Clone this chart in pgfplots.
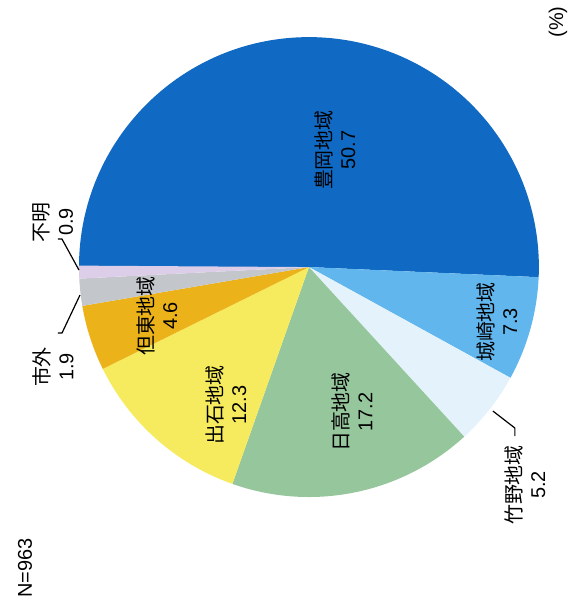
\documentclass[border=0pt]{standalone}
\usepackage{pgfplots}
\pgfplotsset{compat=1.18}
\usepackage{pgfplotstable}
\usepackage{fontspec}
\setmainfont{Liberation Sans}
\newfontfamily\cjk{Noto Sans CJK JP}

\definecolor{cToyooka}{HTML}{1069C2}
\definecolor{cKinosaki}{HTML}{62B6EE}
\definecolor{cTakeno}{HTML}{E4F2FC}
\definecolor{cHidaka}{HTML}{96C69C}
\definecolor{cIzushi}{HTML}{F6EA5E}
\definecolor{cTanto}{HTML}{EBB21A}
\definecolor{cShigai}{HTML}{C3C7CC}
\definecolor{cFumei}{HTML}{DCCDE8}

% share (%) and fill colour, clockwise from the left
\pgfplotstableread{
value col
50.7 cToyooka
7.3  cKinosaki
5.2  cTakeno
17.2 cHidaka
12.3 cIzushi
4.6  cTanto
1.9  cShigai
0.9  cFumei
}\piedata

\begin{document}
\begin{tikzpicture}
\begin{axis}[
  x=0.5bp, y=0.5bp,
  scale only axis,
  xmin=0, xmax=572, ymin=0, ymax=610,
  hide axis, clip=false,
  every node/.style={font=\fontsize{10.6}{13.5}\selectfont},
]
\path (axis cs:0,0) rectangle (axis cs:572,610);
\pgfplotstablegetrowsof{\piedata}
\pgfmathtruncatemacro{\lastrow}{\pgfplotsretval-1}
\gdef\angA{180}
\pgfplotsforeachungrouped \i in {0,...,\lastrow}{%
  \pgfplotstablegetelem{\i}{value}\of\piedata \let\val\pgfplotsretval
  \pgfplotstablegetelem{\i}{col}\of\piedata \let\col\pgfplotsretval
  \pgfmathsetmacro{\angB}{\angA-3.6*\val}
  \edef\temp{\noexpand\fill[\col] (axis cs:309,343) -- (axis cs:{309+230*cos(\angA)},{343+230*sin(\angA)}) arc[start angle=\angA, end angle=\angB, radius=115bp] -- cycle;}
  \temp
  \global\let\angA\angB
}
% labels
\node[rotate=90, align=center] at (axis cs:335,460) {{\cjk 豊岡地域}\\50.7};
\node[rotate=90, align=center] at (axis cs:497,288) {{\cjk 城崎地域}\\7.3};
\node[rotate=90, align=center] at (axis cs:525,125) {{\cjk 竹野地域}\\5.2};
\node[rotate=90, align=center] at (axis cs:352,198) {{\cjk 日高地域}\\17.2};
\node[rotate=90, align=center] at (axis cs:226,205) {{\cjk 出石地域}\\12.3};
\node[rotate=90, align=center] at (axis cs:157,294) {{\cjk 但東地域}\\4.6};
\node[rotate=90, align=center] at (axis cs:53,243) {{\cjk 市外}\\1.9};
\node[rotate=90, align=center] at (axis cs:53,388) {{\cjk 不明}\\0.9};
\node[rotate=90] at (axis cs:25,42) {N=963};
\node[rotate=90] at (axis cs:558,588) {(\%)};
% leaders
\draw[line width=0.6bp] (axis cs:493,199) -- (axis cs:515,182) -- (axis cs:515,174);
\draw[line width=0.6bp] (axis cs:80,315) -- (axis cs:62,277) -- (axis cs:58,277);
\draw[line width=0.6bp] (axis cs:79,340) -- (axis cs:62,371) -- (axis cs:58,371);
\end{axis}
\end{tikzpicture}
\end{document}
